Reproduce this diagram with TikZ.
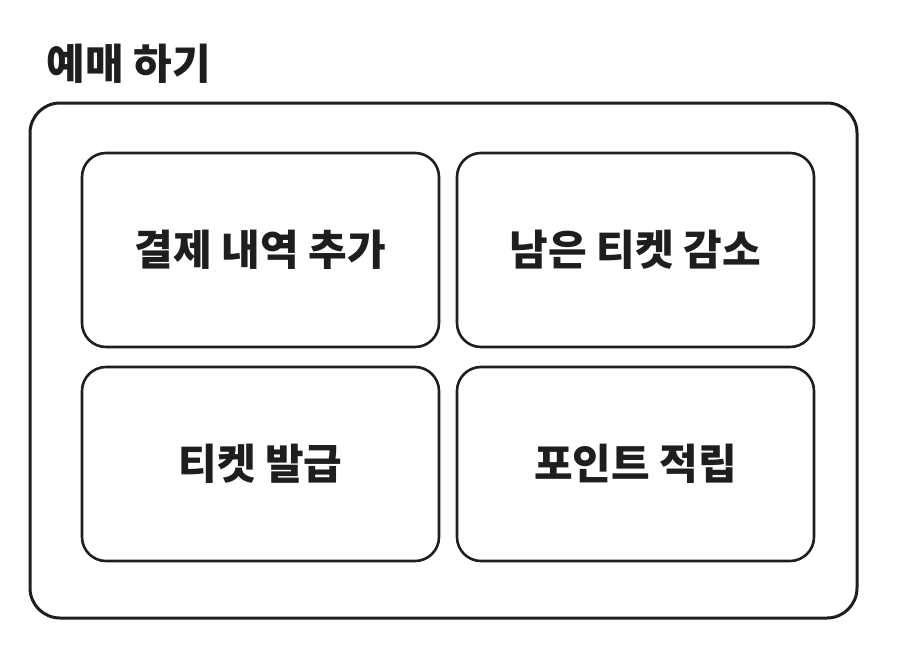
\documentclass[tikz,border=0pt]{standalone}
\usepackage{fontspec}
\newfontfamily\krfont{Noto Sans CJK KR}
\usepackage{tikz}
\usetikzlibrary{positioning}

\definecolor{ink}{HTML}{1E1E1E}

\begin{document}
\begin{tikzpicture}[x=1pt,y=-1pt,every node/.style={font=\krfont\bfseries\fontsize{42}{48}\selectfont,text=ink}]
  \useasboundingbox (0,0) rectangle (900,654);
  \node[anchor=west] (title) at (43,64) {예매 하기};
  \node[draw=ink,line width=3pt,rounded corners=30pt,minimum width=827pt,minimum height=515pt] (outer) at (443.5,360.5) {};
  \node[draw=ink,line width=2.6pt,rounded corners=24pt,minimum width=357pt,minimum height=194pt] (pay) at (260.5,250) {\raisebox{4pt}{결제 내역 추가}};
  \node[draw=ink,line width=2.6pt,rounded corners=24pt,minimum width=357pt,minimum height=194pt] (left) at (635.5,250) {\raisebox{4pt}{남은 티켓 감소}};
  \node[draw=ink,line width=2.6pt,rounded corners=24pt,minimum width=357pt,minimum height=194pt] (issue) at (260.5,464) {\raisebox{4pt}{티켓 발급}};
  \node[draw=ink,line width=2.6pt,rounded corners=24pt,minimum width=357pt,minimum height=194pt] (point) at (635.5,464) {\raisebox{4pt}{포인트 적립}};
\end{tikzpicture}
\end{document}
